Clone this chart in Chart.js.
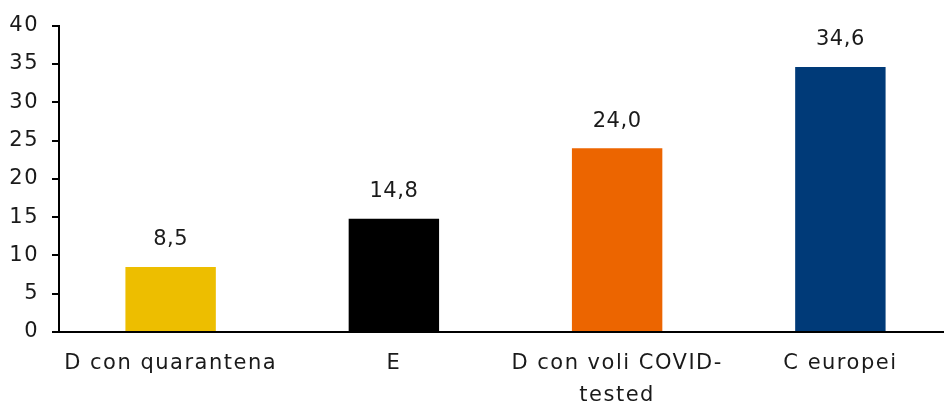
<!DOCTYPE html>
<html>
<head>
<meta charset="utf-8">
<script src="https://cdn.jsdelivr.net/npm/chart.js@4"></script>
<style>
  html, body { margin: 0; padding: 0; background: #fff; overflow: hidden; }
  #wrap { width: 952px; height: 402px; position: relative; }
</style>
</head>
<body>
<div id="wrap"><canvas id="c"></canvas></div>
<script>
// Categories and values
const categories = [
  "D con quarantena",
  "E",
  ["D con voli COVID-", "tested"],
  "C europei"
];
const values = [8.5, 14.8, 24.0, 34.6];
const barColors = ["#EDBE00", "#000000", "#EC6500", "#003A78"];
const yTicks = [0, 5, 10, 15, 20, 25, 30, 35, 40];

const FONT = "'Century Gothic', 'URW Gothic', 'DejaVu Sans', sans-serif";
const SPACING = "1.5px";
const TEXT = "#1a1a1a";

// Wide, airy lettering for every text on the canvas
const spacing = {
  id: "spacing",
  beforeLayout(chart) { chart.ctx.letterSpacing = SPACING; },
  beforeDraw(chart) { chart.ctx.letterSpacing = SPACING; }
};

// Writes each bar's value above it, Italian decimal comma
const valueLabels = {
  id: "valueLabels",
  afterDatasetsDraw(chart) {
    const ctx = chart.ctx;
    const meta = chart.getDatasetMeta(0);
    ctx.save();
    ctx.letterSpacing = "0.5px";
    ctx.font = "21px " + FONT;
    ctx.fillStyle = TEXT;
    ctx.textAlign = "center";
    ctx.textBaseline = "middle";
    meta.data.forEach((bar, i) => {
      const txt = values[i].toFixed(1).replace(".", ",");
      ctx.fillText(txt, bar.x, bar.y - 27);
    });
    ctx.restore();
  }
};

new Chart(document.getElementById("c"), {
  type: "bar",
  data: {
    labels: categories,
    datasets: [{
      data: values,
      backgroundColor: barColors,
      categoryPercentage: 1.0,
      barPercentage: 0.405
    }]
  },
  options: {
    responsive: true,
    maintainAspectRatio: false,
    animation: false,
    layout: { padding: { top: 25, right: 0, left: 0, bottom: 0 } },
    plugins: { legend: { display: false }, tooltip: { enabled: false } },
    scales: {
      x: {
        grid: { display: false, drawTicks: false },
        border: { display: true, color: "#000", width: 2 },
        ticks: {
          color: TEXT,
          font: { family: FONT, size: 21, lineHeight: 1.5 },
          padding: 16,
          maxRotation: 0,
          autoSkip: false
        },
        afterFit(scale) { scale.height = 70; }
      },
      y: {
        min: 0,
        max: 40,
        afterBuildTicks(scale) { scale.ticks = yTicks.map(v => ({ value: v })); },
        grid: { drawOnChartArea: false, drawTicks: true, tickLength: 7, color: "#000", lineWidth: 2 },
        border: { display: true, color: "#000", width: 2 },
        ticks: {
          color: TEXT,
          font: { family: FONT, size: 21 },
          padding: 13
        },
        afterFit(scale) { scale.width = 59; }
      }
    }
  },
  plugins: [spacing, valueLabels]
});
</script>
</body>
</html>
